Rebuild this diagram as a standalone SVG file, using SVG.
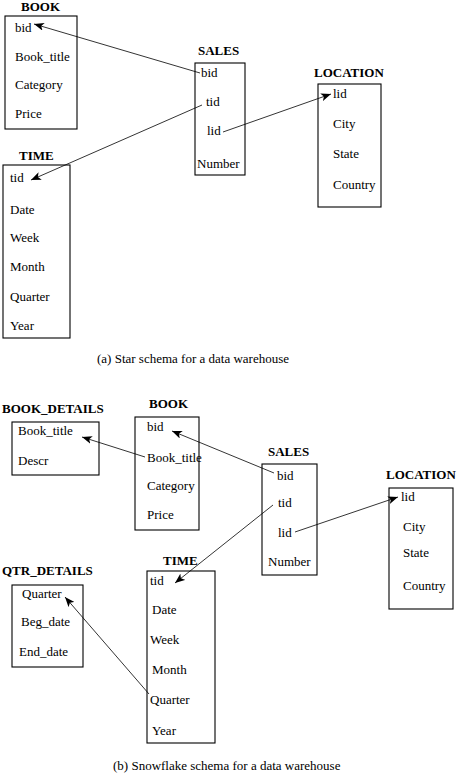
<svg xmlns="http://www.w3.org/2000/svg" width="457" height="777" viewBox="0 0 457 777">
<style>
.box{fill:#fff;stroke:#000;stroke-width:1.1}
.t{font-family:"Liberation Serif","Times New Roman",serif;font-size:13px;fill:#000}
.h{font-family:"Liberation Serif","Times New Roman",serif;font-size:13px;font-weight:bold;fill:#000}
.c{stroke:#000;stroke-width:0.8;fill:none;marker-end:url(#ah)}
</style>
<defs>
<marker id="ah" markerUnits="userSpaceOnUse" markerWidth="11" markerHeight="8" refX="10" refY="4" orient="auto">
<path d="M0,0 L10,4 L0,8 L2.5,4 Z" fill="#000"/>
</marker>
</defs>
<rect width="457" height="777" fill="#fff"/>
<g id="a_book">
<text class="h" x="21" y="10.5">BOOK</text>
<rect class="box" x="5" y="16" width="72" height="113"/>
<text class="t" x="15" y="32">bid</text>
<text class="t" x="15" y="61">Book_title</text>
<text class="t" x="15" y="89">Category</text>
<text class="t" x="15" y="118">Price</text>
</g>
<g id="a_sales">
<text class="h" x="198" y="55">SALES</text>
<rect class="box" x="195" y="63" width="50" height="112"/>
<text class="t" x="201" y="77">bid</text>
<text class="t" x="206" y="106">tid</text>
<text class="t" x="207" y="135">lid</text>
<text class="t" x="197" y="168">Number</text>
</g>
<g id="a_location">
<text class="h" x="314" y="77">LOCATION</text>
<rect class="box" x="318" y="84" width="63" height="123"/>
<text class="t" x="333" y="98">lid</text>
<text class="t" x="333" y="128">City</text>
<text class="t" x="333" y="158">State</text>
<text class="t" x="333" y="189">Country</text>
</g>
<g id="a_time">
<text class="h" x="19" y="160">TIME</text>
<rect class="box" x="3" y="165" width="67" height="173"/>
<text class="t" x="10" y="182">tid</text>
<text class="t" x="10" y="214">Date</text>
<text class="t" x="10" y="242">Week</text>
<text class="t" x="10" y="271">Month</text>
<text class="t" x="10" y="301">Quarter</text>
<text class="t" x="10" y="330">Year</text>
</g>
<g id="a_connectors">
<line class="c" x1="200" y1="73" x2="34" y2="24"/>
<line class="c" x1="202" y1="105" x2="31" y2="180"/>
<line class="c" x1="223" y1="132" x2="331" y2="94"/>
</g>
<text class="t" x="97" y="363">(a) Star schema for a data warehouse</text>
<g id="b_bookdetails">
<text class="h" x="2" y="413">BOOK_DETAILS</text>
<rect class="box" x="12" y="422" width="87" height="53"/>
<text class="t" x="18" y="435">Book_title</text>
<text class="t" x="18" y="465">Descr</text>
</g>
<g id="b_book">
<text class="h" x="149" y="408">BOOK</text>
<rect class="box" x="135" y="417" width="64" height="113"/>
<text class="t" x="147" y="431">bid</text>
<text class="t" x="147" y="462">Book_title</text>
<text class="t" x="147" y="490">Category</text>
<text class="t" x="147" y="519">Price</text>
</g>
<g id="b_sales">
<text class="h" x="268" y="456">SALES</text>
<rect class="box" x="262" y="464" width="55" height="111"/>
<text class="t" x="277" y="480">bid</text>
<text class="t" x="278" y="507">tid</text>
<text class="t" x="278" y="537">lid</text>
<text class="t" x="268" y="566">Number</text>
</g>
<g id="b_location">
<text class="h" x="386" y="479">LOCATION</text>
<rect class="box" x="389" y="488" width="64" height="121"/>
<text class="t" x="401" y="501">lid</text>
<text class="t" x="403" y="531">City</text>
<text class="t" x="403" y="557">State</text>
<text class="t" x="403" y="590">Country</text>
</g>
<g id="b_time">
<text class="h" x="163" y="565">TIME</text>
<rect class="box" x="147" y="571" width="68" height="172"/>
<text class="t" x="150" y="585">tid</text>
<text class="t" x="152" y="614">Date</text>
<text class="t" x="150" y="644">Week</text>
<text class="t" x="152" y="674">Month</text>
<text class="t" x="150" y="704">Quarter</text>
<text class="t" x="152" y="735">Year</text>
</g>
<g id="b_qtrdetails">
<text class="h" x="2" y="575">QTR_DETAILS</text>
<rect class="box" x="12" y="585" width="71" height="82"/>
<text class="t" x="22" y="598">Quarter</text>
<text class="t" x="21" y="626">Beg_date</text>
<text class="t" x="19" y="656">End_date</text>
</g>
<g id="b_connectors">
<line class="c" x1="145" y1="457" x2="82" y2="437"/>
<line class="c" x1="274" y1="473" x2="172" y2="431"/>
<line class="c" x1="273" y1="505" x2="175" y2="583"/>
<line class="c" x1="295" y1="532" x2="398" y2="497"/>
<line class="c" x1="149" y1="694" x2="65" y2="597"/>
</g>
<text class="t" x="113" y="770">(b) Snowflake schema for a data warehouse</text>
</svg>
